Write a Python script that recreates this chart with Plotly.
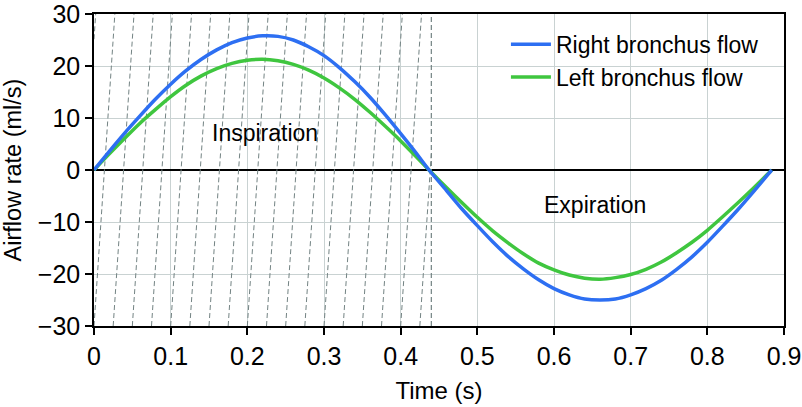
import plotly.graph_objects as go

# ---- data ----
time_s = [0.0, 0.02, 0.04, 0.06, 0.08, 0.10, 0.12, 0.14, 0.16, 0.18, 0.20, 0.22,
          0.24, 0.26, 0.28, 0.30, 0.32, 0.34, 0.36, 0.38, 0.40, 0.42, 0.437,
          0.46, 0.48, 0.50, 0.52, 0.54, 0.56, 0.58, 0.60, 0.62, 0.64, 0.66,
          0.68, 0.70, 0.72, 0.74, 0.76, 0.78, 0.80, 0.82, 0.84, 0.86, 0.88, 0.884]

right_flow = [0.0, 3.6, 7.1, 10.4, 13.6, 16.5, 19.1, 21.3, 23.1, 24.5, 25.4, 25.8,
              25.7, 25.0, 23.7, 22.0, 19.7, 17.0, 14.0, 10.6, 7.0, 3.3, 0.0,
              -4.0, -7.5, -10.7, -13.8, -16.6, -19.0, -21.1, -22.8, -24.0, -24.8, -25.0,
              -24.8, -24.0, -22.8, -21.2, -19.1, -16.7, -13.9, -10.8, -7.6, -4.2, -0.7, 0.0]

left_flow = [0.0, 3.1, 6.1, 9.0, 11.6, 14.1, 16.3, 18.1, 19.5, 20.5, 21.1, 21.3,
             21.0, 20.3, 19.2, 17.7, 15.8, 13.6, 11.1, 8.4, 5.6, 2.6, 0.0,
             -3.4, -6.3, -9.1, -11.7, -14.0, -16.1, -17.9, -19.2, -20.2, -20.8, -21.0,
             -20.7, -20.1, -19.1, -17.7, -15.9, -13.9, -11.6, -9.0, -6.3, -3.5, -0.6, 0.0]

series_names = ["Right bronchus flow", "Left bronchus flow"]
x_ticks = [0, 0.1, 0.2, 0.3, 0.4, 0.5, 0.6, 0.7, 0.8, 0.9]
x_tick_labels = ["0", "0.1", "0.2", "0.3", "0.4", "0.5", "0.6", "0.7", "0.8", "0.9"]
y_ticks = [-30, -20, -10, 0, 10, 20, 30]

inspiration_end = 0.44
phase_labels = ["Inspiration", "Expiration"]
phase_label_x = [0.2235, 0.654]
phase_label_y = [7.1, -6.7]

X_RANGE = [0, 0.9]
Y_RANGE = [-30, 30]

# ---- styles ----
BLUE = "#2d6ff2"
GREEN = "#3fc63f"
HATCH = "#738383"
GRID = "#c9d2d2"
FONT = "Liberation Sans, Arial, Helvetica, sans-serif"

fig = go.Figure()

# hatch (decoration) over inspiration phase: slanted dashed lines
hx, hy = [], []
spacing = 0.025
lean = 0.0272
for k in range(-3, 20):
    xb = k * spacing
    s0 = max(0.0, (0 - xb) / lean)
    s1 = min(1.0, (inspiration_end - xb) / lean)
    if s0 >= s1:
        continue
    for s in (s0, s1):
        hx.append(xb + s * lean)
        hy.append(Y_RANGE[0] + s * (Y_RANGE[1] - Y_RANGE[0]))
    hx.append(None)
    hy.append(None)
fig.add_trace(go.Scatter(x=hx, y=hy, mode="lines", showlegend=False, hoverinfo="skip",
                         line=dict(color=HATCH, width=1, dash="5px,3px")))
fig.add_trace(go.Scatter(x=[inspiration_end, inspiration_end], y=Y_RANGE, mode="lines",
                         showlegend=False, hoverinfo="skip",
                         line=dict(color=HATCH, width=1.2, dash="5px,3px")))

fig.add_trace(go.Scatter(x=time_s, y=left_flow, mode="lines", name=series_names[1],
                         line=dict(color=GREEN, width=3.5, shape="spline", smoothing=0.6),
                         showlegend=False))
fig.add_trace(go.Scatter(x=time_s, y=right_flow, mode="lines", name=series_names[0],
                         line=dict(color=BLUE, width=3.5, shape="spline", smoothing=0.6)))
fig.add_trace(go.Scatter(x=[None], y=[None], mode="lines", name=series_names[1],
                         line=dict(color=GREEN, width=3.5)))

for txt, tx, ty in zip(phase_labels, phase_label_x, phase_label_y):
    fig.add_annotation(x=tx, y=ty, text=txt, showarrow=False,
                       font=dict(size=23, color="black", family=FONT))

fig.update_layout(
    width=802, height=407,
    margin=dict(l=94, r=18, t=14, b=81),
    paper_bgcolor="white", plot_bgcolor="white",
    font=dict(family=FONT, size=22, color="black"),
    legend=dict(x=0.597, y=0.972, xanchor="left", yanchor="top",
                bgcolor="rgba(0,0,0,0)", borderwidth=0,
                font=dict(size=23), itemwidth=40, tracegroupgap=0),
    xaxis=dict(range=X_RANGE, tickvals=x_ticks, ticktext=x_tick_labels,
               showgrid=True, gridcolor=GRID, gridwidth=1,
               showline=True, linecolor="black", linewidth=1.5, mirror=True,
               ticks="outside", ticklen=7, tickwidth=1.5, tickcolor="black",
               zeroline=False, tickfont=dict(size=25), automargin=False,
               ticklabeloverflow="allow",
               title=dict(text="Time (s)", font=dict(size=24), standoff=13)),
    yaxis=dict(range=Y_RANGE, tickvals=y_ticks,
               showgrid=True, gridcolor=GRID, gridwidth=1,
               showline=True, linecolor="black", linewidth=1.5, mirror=True,
               ticks="outside", ticklen=7, tickwidth=1.5, tickcolor="black",
               zeroline=True, zerolinecolor="black", zerolinewidth=1.5,
               tickfont=dict(size=25), automargin=False,
               ticklabeloverflow="allow",
               title=dict(text="Airflow rate (ml/s)", font=dict(size=23.5), standoff=12)),
)

fig.write_html("out.html", config={"displayModeBar": False},
               post_script="document.body.style.margin='0';")
